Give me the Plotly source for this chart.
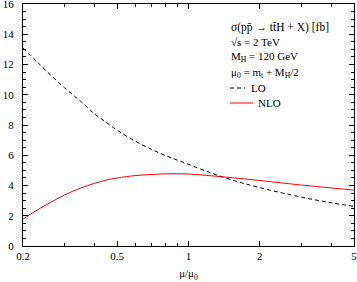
import numpy as np
import plotly.graph_objects as go

# scale ratio mu/mu0
mu = [0.2, 0.225, 0.25, 0.3, 0.35, 0.4, 0.45, 0.5, 0.6, 0.7, 0.8, 1.0, 1.25, 1.5, 2.0, 3.0, 4.0, 5.0]
# cross sections in fb
sigma_lo = [13.1, 12.31, 11.6, 10.45, 9.57, 8.75, 8.17, 7.65, 6.9, 6.38, 5.98, 5.4, 4.82, 4.4, 3.86, 3.23, 2.86, 2.62]
sigma_nlo = [1.78, 2.3, 2.71, 3.38, 3.83, 4.14, 4.36, 4.5, 4.66, 4.73, 4.77, 4.76, 4.64, 4.53, 4.33, 4.03, 3.84, 3.70]

x_major = [0.2, 0.5, 1, 2, 5]
x_major_text = ["0.2", "0.5", "1", "2", "5"]
x_minor = [0.3, 0.4, 0.6, 0.7, 0.8, 0.9, 3, 4]

FONT = "Liberation Serif"

fig = go.Figure()
fig.add_trace(go.Scatter(x=mu, y=sigma_lo, mode="lines", name="LO",
                         line=dict(color="black", width=1, dash="4px,3px", shape="spline")))
fig.add_trace(go.Scatter(x=mu, y=sigma_nlo, mode="lines", name="NLO",
                         line=dict(color="red", width=1, shape="spline")))

axis_common = dict(showline=True, linecolor="black", linewidth=1, mirror="allticks",
                   ticks="inside", tickcolor="black", showgrid=False, zeroline=False,
                   automargin=False, ticklabeloverflow="allow",
                   tickfont=dict(family=FONT, size=11, color="black"))

fig.update_xaxes(type="log", range=[np.log10(0.2) - 1e-4, np.log10(5) + 1e-4],
                 tickmode="array", tickvals=x_major, ticktext=x_major_text,
                 ticklen=5, tickwidth=1,
                 minor=dict(ticks="inside", tickvals=x_minor, ticklen=3, tickcolor="black", showgrid=False),
                 title=dict(text="μ/μ<sub>0</sub>", font=dict(family=FONT, size=11, color="black"), standoff=8),
                 **axis_common)
fig.update_yaxes(range=[0, 16.001], tickmode="linear", tick0=0, dtick=2, ticklen=5, tickwidth=1,
                 minor=dict(ticks="inside", dtick=0.5, ticklen=3, tickcolor="black", showgrid=False),
                 ticklabelstandoff=6,
                 **axis_common)

ann_font = dict(family=FONT, size=11, color="black")
x0 = (229 - 23) / 331.0
texts = [
    ("σ(pp̄ → tt̄H + X) [fb]", 27, 11.5),
    ("√s = 2 TeV", 42, 11),
    ("M<sub>H</sub> = 120 GeV", 57, 11),
    ("μ<sub>0</sub> = m<sub>t</sub> + M<sub>H</sub>/2", 73, 11),
]
for t, ypix, fs in texts:
    fig.add_annotation(xref="paper", yref="paper", x=x0, y=(246 - ypix) / 242.0,
                       text=t, showarrow=False, xanchor="left", yanchor="middle",
                       font=dict(family=FONT, size=fs, color="black"))

# manual legend
leg = [("LO", 88, 245, dict(color="black", width=1, dash="4px,3px"), 249),
       ("NLO", 103, 253, dict(color="red", width=1), 256)]
for name, ypix, xend, ln, xt in leg:
    yy = (246 - ypix) / 242.0
    fig.add_shape(type="line", xref="paper", yref="paper",
                  x0=(230 - 23) / 331.0, x1=(xend - 23) / 331.0, y0=yy, y1=yy, line=ln)
    fig.add_annotation(xref="paper", yref="paper", x=(xt - 23) / 331.0, y=yy,
                       text=name, showarrow=False, xanchor="left", yanchor="middle", font=ann_font)

fig.update_layout(width=357, height=282, margin=dict(l=23, r=3, t=4, b=36),
                  paper_bgcolor="white", plot_bgcolor="white", showlegend=False,
                  font=dict(family=FONT, size=11, color="black"))

fig.write_html("out.html", config={"displayModeBar": False},
               post_script="document.body.style.margin='0';document.body.style.overflow='hidden';")
